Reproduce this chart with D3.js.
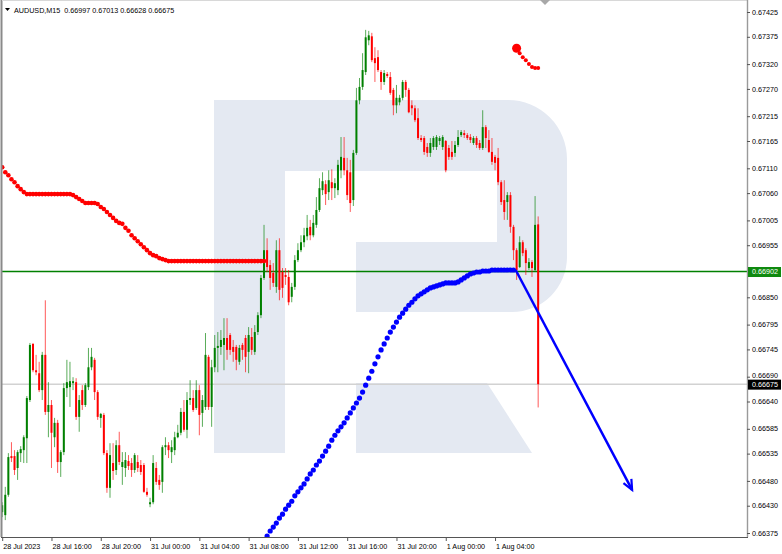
<!DOCTYPE html>
<html><head><meta charset="utf-8">
<script src="https://cdn.jsdelivr.net/npm/d3@7"></script>
<style>
html,body{margin:0;padding:0;background:#fff;}
svg{display:block;font-family:"Liberation Sans",Arial,sans-serif;}
</style>
</head><body>
<svg id="chart" width="782" height="554"></svg>
<script>
// ---------------- DATA ----------------
const symbolTitle = "AUDUSD,M15";
const headerValues = ["0.66997", "0.67013", "0.66628", "0.66675"];

// M15 candles, index 0 = 28 Jul 2023 12:00
const opens = [0.66417,0.66411,0.66452,0.66530,0.66530,0.66506,0.66536,0.66542,0.66566,0.66643,
0.66756,0.66703,0.66697,0.66663,0.66734,0.66619,0.66633,0.66568,0.66597,0.66518,
0.66538,0.66667,0.66669,0.66677,0.66679,0.66609,0.66663,0.66633,0.66669,0.66709,
0.66724,0.66659,0.66607,0.66613,0.66536,0.66466,0.66516,0.66502,0.66552,0.66508,
0.66506,0.66520,0.66516,0.66502,0.66518,0.66512,0.66512,0.66458,0.66433,0.66437,
0.66506,0.66482,0.66478,0.66548,0.66552,0.66538,0.66542,0.66568,0.66577,0.66619,
0.66583,0.66643,0.66647,0.66627,0.66663,0.66617,0.66629,0.66730,0.66629,0.66709,
0.66748,0.66750,0.66754,0.66768,0.66774,0.66750,0.66750,0.66720,0.66754,0.66768,
0.66740,0.66770,0.66740,0.66780,0.66814,0.66889,0.66945,0.66915,0.66899,0.66871,
0.66945,0.66901,0.66895,0.66891,0.66851,0.66871,0.66925,0.66945,0.66961,0.66973,
0.66992,0.66975,0.66996,0.67026,0.67066,0.67078,0.67062,0.67082,0.67070,0.67066,
0.67106,0.67131,0.67106,0.67102,0.67046,0.67141,0.67247,0.67274,0.67304,0.67368,
0.67376,0.67332,0.67334,0.67304,0.67284,0.67300,0.67294,0.67268,0.67237,0.67243,
0.67252,0.67284,0.67268,0.67237,0.67231,0.67211,0.67171,0.67171,0.67153,0.67141,
0.67153,0.67153,0.67165,0.67153,0.67165,0.67151,0.67143,0.67141,0.67157,0.67177,
0.67181,0.67177,0.67173,0.67161,0.67171,0.67161,0.67151,0.67193,0.67167,0.67143,
0.67133,0.67131,0.67082,0.67046,0.67042,0.67056,0.66992,0.66945,0.66911,0.66961,
0.66945,0.66909,0.66921,0.66905,0.66997];
const highs = [0.66437,0.66468,0.66536,0.66558,0.66542,0.66542,0.66550,0.66572,0.66651,0.66758,
0.66758,0.66734,0.66720,0.66740,0.66844,0.66679,0.66643,0.66607,0.66603,0.66542,
0.66677,0.66724,0.66720,0.66689,0.66687,0.66653,0.66673,0.66677,0.66748,0.66748,
0.66728,0.66663,0.66617,0.66617,0.66542,0.66556,0.66556,0.66562,0.66579,0.66538,
0.66538,0.66532,0.66526,0.66536,0.66532,0.66522,0.66516,0.66466,0.66446,0.66532,
0.66518,0.66492,0.66552,0.66568,0.66558,0.66562,0.66579,0.66593,0.66627,0.66643,
0.66659,0.66683,0.66663,0.66683,0.66673,0.66653,0.66778,0.66734,0.66724,0.66774,
0.66780,0.66784,0.66808,0.66808,0.66778,0.66764,0.66754,0.66754,0.66758,0.66774,
0.66790,0.66788,0.66794,0.66820,0.66895,0.66996,0.66969,0.66925,0.66919,0.66965,
0.66969,0.66909,0.66909,0.66905,0.66879,0.66935,0.66959,0.66975,0.66990,0.67016,
0.67006,0.67016,0.67052,0.67090,0.67102,0.67086,0.67106,0.67108,0.67090,0.67127,
0.67173,0.67173,0.67131,0.67127,0.67147,0.67272,0.67292,0.67342,0.67389,0.67387,
0.67383,0.67354,0.67348,0.67308,0.67308,0.67304,0.67304,0.67272,0.67278,0.67258,
0.67288,0.67288,0.67272,0.67247,0.67237,0.67231,0.67177,0.67175,0.67161,0.67171,
0.67175,0.67177,0.67175,0.67177,0.67167,0.67157,0.67165,0.67165,0.67187,0.67187,
0.67187,0.67181,0.67179,0.67175,0.67175,0.67167,0.67227,0.67197,0.67187,0.67171,
0.67137,0.67151,0.67086,0.67086,0.67062,0.67062,0.66996,0.66949,0.66973,0.66965,
0.66949,0.66929,0.66925,0.67054,0.67013];
const lows = [0.66407,0.66401,0.66448,0.66518,0.66492,0.66482,0.66518,0.66516,0.66516,0.66639,
0.66699,0.66693,0.66659,0.66643,0.66613,0.66568,0.66506,0.66548,0.66496,0.66488,
0.66532,0.66649,0.66629,0.66663,0.66603,0.66579,0.66623,0.66629,0.66663,0.66703,
0.66643,0.66603,0.66587,0.66532,0.66456,0.66446,0.66482,0.66492,0.66512,0.66472,
0.66488,0.66502,0.66488,0.66496,0.66498,0.66492,0.66456,0.66448,0.66427,0.66433,
0.66472,0.66462,0.66456,0.66532,0.66526,0.66516,0.66532,0.66566,0.66572,0.66579,
0.66566,0.66633,0.66619,0.66623,0.66572,0.66589,0.66623,0.66623,0.66589,0.66699,
0.66699,0.66734,0.66703,0.66724,0.66734,0.66720,0.66703,0.66714,0.66724,0.66699,
0.66697,0.66734,0.66734,0.66774,0.66808,0.66885,0.66901,0.66865,0.66871,0.66859,
0.66844,0.66849,0.66875,0.66834,0.66840,0.66865,0.66921,0.66941,0.66951,0.66965,
0.66965,0.66971,0.66990,0.67022,0.67056,0.67036,0.67046,0.67046,0.67050,0.67056,
0.67090,0.67096,0.67046,0.67022,0.67034,0.67137,0.67239,0.67268,0.67298,0.67358,
0.67324,0.67284,0.67304,0.67268,0.67278,0.67292,0.67258,0.67217,0.67221,0.67237,
0.67247,0.67254,0.67221,0.67217,0.67203,0.67167,0.67163,0.67137,0.67133,0.67133,
0.67147,0.67147,0.67157,0.67147,0.67102,0.67127,0.67127,0.67133,0.67153,0.67173,
0.67171,0.67167,0.67161,0.67157,0.67151,0.67147,0.67147,0.67151,0.67141,0.67117,
0.67106,0.67076,0.67036,0.67006,0.67006,0.66980,0.66925,0.66885,0.66909,0.66933,
0.66895,0.66905,0.66891,0.66901,0.66628];
const closes = [0.66431,0.66452,0.66528,0.66526,0.66502,0.66538,0.66544,0.66568,0.66647,0.66754,
0.66703,0.66699,0.66663,0.66734,0.66619,0.66633,0.66577,0.66597,0.66518,0.66538,
0.66667,0.66679,0.66681,0.66681,0.66609,0.66643,0.66633,0.66673,0.66709,0.66730,
0.66659,0.66609,0.66615,0.66536,0.66466,0.66532,0.66500,0.66552,0.66518,0.66518,
0.66522,0.66510,0.66502,0.66532,0.66506,0.66498,0.66458,0.66452,0.66437,0.66516,
0.66478,0.66472,0.66548,0.66552,0.66542,0.66548,0.66568,0.66577,0.66619,0.66583,
0.66643,0.66647,0.66623,0.66663,0.66613,0.66643,0.66734,0.66629,0.66709,0.66748,
0.66752,0.66764,0.66768,0.66744,0.66744,0.66740,0.66724,0.66748,0.66744,0.66730,
0.66774,0.66744,0.66780,0.66814,0.66889,0.66945,0.66911,0.66889,0.66879,0.66945,
0.66865,0.66869,0.66891,0.66840,0.66871,0.66925,0.66945,0.66961,0.66975,0.66990,
0.66975,0.67000,0.67026,0.67070,0.67084,0.67058,0.67086,0.67070,0.67080,0.67117,
0.67133,0.67106,0.67056,0.67040,0.67141,0.67247,0.67274,0.67308,0.67374,0.67378,
0.67328,0.67322,0.67308,0.67284,0.67302,0.67296,0.67262,0.67237,0.67252,0.67252,
0.67284,0.67268,0.67223,0.67231,0.67207,0.67171,0.67167,0.67143,0.67141,0.67161,
0.67171,0.67173,0.67171,0.67173,0.67106,0.67133,0.67133,0.67157,0.67173,0.67183,
0.67177,0.67171,0.67167,0.67171,0.67157,0.67151,0.67193,0.67171,0.67143,0.67123,
0.67121,0.67082,0.67042,0.67022,0.67056,0.66992,0.66945,0.66905,0.66961,0.66939,
0.66919,0.66921,0.66909,0.66996,0.66675];

// Dotted indicator (red above price), candles 0..85
const redDotsStart = 0;
const redDots = [0.67112,0.67102,0.67096,0.67088,0.67082,0.67074,0.67068,0.67062,0.67058,0.67058,
0.67058,0.67058,0.67058,0.67058,0.67058,0.67058,0.67058,0.67058,0.67058,0.67058,
0.67058,0.67058,0.67058,0.67056,0.67052,0.67048,0.67044,0.67040,0.67040,0.67040,
0.67040,0.67038,0.67032,0.67028,0.67022,0.67016,0.67010,0.67004,0.67000,0.66998,
0.66990,0.66984,0.66975,0.66969,0.66963,0.66957,0.66951,0.66945,0.66939,0.66935,
0.66933,0.66929,0.66927,0.66925,0.66923,0.66923,0.66923,0.66923,0.66923,0.66923,
0.66923,0.66923,0.66923,0.66923,0.66923,0.66923,0.66923,0.66923,0.66923,0.66923,
0.66923,0.66923,0.66923,0.66923,0.66923,0.66923,0.66923,0.66923,0.66923,0.66923,
0.66923,0.66923,0.66923,0.66923,0.66923,0.66923];
// Dotted indicator (blue below price), candles 86..166
const blueDotsStart = 86;
const blueDots = [0.66369,0.66379,0.66387,0.66395,0.66405,0.66413,0.66423,0.66431,0.66439,0.66450,
0.66458,0.66466,0.66474,0.66484,0.66494,0.66502,0.66512,0.66520,0.66530,0.66540,
0.66550,0.66562,0.66572,0.66581,0.66589,0.66597,0.66607,0.66617,0.66627,0.66637,
0.66647,0.66659,0.66673,0.66687,0.66701,0.66716,0.66730,0.66744,0.66756,0.66768,
0.66780,0.66790,0.66800,0.66810,0.66818,0.66826,0.66834,0.66840,0.66847,0.66853,
0.66857,0.66861,0.66865,0.66869,0.66871,0.66873,0.66875,0.66877,0.66879,0.66879,
0.66879,0.66879,0.66881,0.66885,0.66889,0.66893,0.66897,0.66899,0.66901,0.66901,
0.66903,0.66903,0.66903,0.66905,0.66905,0.66905,0.66905,0.66905,0.66905,0.66905,
0.66905];
// Dotted indicator (red again), candles 167..174
const redDots2Start = 167;
const redDots2 = [0.67352,0.67342,0.67334,0.67328,0.67320,0.67314,0.67312,0.67312];

const levelPrice = 0.66902;
const lastPrice = 0.66675;
// forecast arrow: [candle index, price]
const arrowFrom = [166.7, 0.66905];
const arrowTo = [204.5, 0.66462];

const timeTickIndex = [0, 16, 32, 48, 64, 80, 96, 112, 128, 144, 160];
const timeTickLabels = ["28 Jul 2023", "28 Jul 16:00", "28 Jul 20:00", "31 Jul 00:00", "31 Jul 04:00",
  "31 Jul 08:00", "31 Jul 12:00", "31 Jul 16:00", "31 Jul 20:00", "1 Aug 00:00", "1 Aug 04:00"];
const priceTicks = [0.67425, 0.67375, 0.67320, 0.67270, 0.67215, 0.67165, 0.67110, 0.67060, 0.67005,
  0.66955, 0.66850, 0.66795, 0.66745, 0.66690, 0.66640, 0.66585, 0.66535, 0.66480, 0.66430, 0.66375];

// ---------------- DRAW ----------------
const svg = d3.select("#chart");
const plot = {l: 2, r: 747, t: 0, b: 537};
const x = d3.scaleLinear().domain([0, 241.8]).range([2.2, 747]);
const y = d3.scaleLinear().domain([0.66375, 0.67425]).range([533, 12]);
const FONT = "'Liberation Sans', Arial, sans-serif";
const GREEN = "#008000", RED = "#ff0000", BLUE = "#0000ff";

svg.append("rect").attr("width", 782).attr("height", 554).attr("fill", "#fff");
svg.append("defs").append("clipPath").attr("id", "clip")
  .append("rect").attr("x", plot.l).attr("y", plot.t)
  .attr("width", plot.r - plot.l).attr("height", plot.b - plot.t);

// watermark logo
const logo = svg.append("g").attr("fill", "#e4e9f2");
logo.append("rect").attr("x", 214).attr("y", 100).attr("width", 71).attr("height", 353);
logo.append("path").attr("d", "M285,100 L508,100 A59,59 0 0 1 567,159 L567,257 A55,55 0 0 1 512,312 L356,312 L356,242 L497,242 L497,171 L285,171 Z");
logo.append("path").attr("d", "M356,383 L487,383 L532,453 L356,453 Z");

const g = svg.append("g").attr("clip-path", "url(#clip)");

// horizontal lines
g.append("line").attr("x1", plot.l).attr("x2", plot.r)
  .attr("y1", y(lastPrice)).attr("y2", y(lastPrice))
  .attr("stroke", "#d2d2d2").attr("stroke-width", 1.5);
g.append("line").attr("x1", plot.l).attr("x2", plot.r)
  .attr("y1", y(levelPrice)).attr("y2", y(levelPrice))
  .attr("stroke", GREEN).attr("stroke-width", 1.6);

// candles
const candles = opens.map((o, i) => ({i, o, h: highs[i], l: lows[i], c: closes[i]}));
const col = d => d.c >= d.o ? GREEN : RED;
g.selectAll("line.wick").data(candles).join("line").attr("class", "wick")
  .attr("x1", d => x(d.i)).attr("x2", d => x(d.i))
  .attr("y1", d => y(d.h)).attr("y2", d => y(d.l))
  .attr("stroke", col).attr("stroke-width", 1).attr("stroke-opacity", 0.65);
g.selectAll("rect.body").data(candles).join("rect").attr("class", "body")
  .attr("x", d => x(d.i) - 1).attr("width", 2)
  .attr("y", d => Math.min(y(d.o), y(d.c)))
  .attr("height", d => Math.max(1, Math.abs(y(d.o) - y(d.c))))
  .attr("fill", col);

// dotted indicators
function dots(arr, start, color, r) {
  g.append("g").selectAll("circle").data(arr).join("circle")
    .attr("cx", (d, k) => x(start + k)).attr("cy", d => y(d))
    .attr("r", r).attr("fill", color);
}
dots(redDots, redDotsStart, RED, 2.3);
dots(blueDots, blueDotsStart, BLUE, 2.6);
dots(redDots2, redDots2Start, RED, 2.0);
g.append("circle").attr("cx", x(redDots2Start)).attr("cy", y(redDots2[0])).attr("r", 4.5).attr("fill", RED);

// forecast arrow
const ax1 = x(arrowFrom[0]), ay1 = y(arrowFrom[1]), ax2 = x(arrowTo[0]), ay2 = y(arrowTo[1]);
g.append("line").attr("x1", ax1).attr("y1", ay1).attr("x2", ax2).attr("y2", ay2)
  .attr("stroke", BLUE).attr("stroke-width", 2.5);
const ang = Math.atan2(ay2 - ay1, ax2 - ax1), hl = 11, ha = 0.42;
g.append("path")
  .attr("d", `M${ax2 - hl * Math.cos(ang - ha)},${ay2 - hl * Math.sin(ang - ha)} L${ax2},${ay2} L${ax2 - hl * Math.cos(ang + ha)},${ay2 - hl * Math.sin(ang + ha)}`)
  .attr("fill", "none").attr("stroke", BLUE).attr("stroke-width", 2.2);

// frame
svg.append("line").attr("x1", 1.5).attr("x2", 1.5).attr("y1", 0).attr("y2", plot.b).attr("stroke", "#8a8a8a").attr("stroke-width", 2);
svg.append("line").attr("x1", plot.l).attr("x2", plot.r).attr("y1", 0.5).attr("y2", 0.5).attr("stroke", "#d8d8d8").attr("stroke-width", 1);
svg.append("line").attr("x1", plot.r + 0.5).attr("x2", plot.r + 0.5).attr("y1", 0).attr("y2", plot.b).attr("stroke", "#9a9a9a").attr("stroke-width", 1.4);
svg.append("line").attr("x1", 1).attr("x2", plot.r + 1).attr("y1", plot.b + 0.5).attr("y2", plot.b + 0.5).attr("stroke", "#555").attr("stroke-width", 1);

// shift marker
svg.append("path").attr("d", "M540,0 L550,0 L545,5 Z").attr("fill", "#a8a8a8");

// axes
const yAxis = d3.axisRight(y).tickValues(priceTicks).tickFormat(d3.format(".5f")).tickSize(3).tickPadding(2);
const ya = svg.append("g").attr("transform", `translate(${plot.r},0)`).call(yAxis);
ya.select(".domain").remove();
ya.selectAll("line").attr("stroke", "#555");
ya.selectAll("text").attr("font-size", 7.2).attr("font-family", FONT).attr("fill", "#000").attr("dy", "0.3em");
// keep the tick label just above the last-price box clear of it
ya.selectAll(".tick").filter(d => d > lastPrice && y(d) > y(lastPrice) - 10)
  .select("text").attr("y", -1.8);

const xAxis = d3.axisBottom(x).tickValues(timeTickIndex).tickFormat((d, k) => timeTickLabels[k]).tickSize(4).tickPadding(3);
const xa = svg.append("g").attr("transform", `translate(0,${plot.b})`).call(xAxis);
xa.select(".domain").remove();
xa.selectAll("line").attr("stroke", "#555");
xa.selectAll("text").attr("font-size", 7.2).attr("font-family", FONT).attr("fill", "#000")
  .attr("text-anchor", "start").attr("x", 0.5);

// price labels
function priceLabel(p, bg) {
  const yy = y(p);
  svg.append("rect").attr("x", plot.r + 1).attr("y", yy - 4.5).attr("width", 33).attr("height", 10).attr("fill", bg);
  svg.append("text").attr("x", 752).attr("y", yy + 0.5).attr("dy", "0.32em")
    .attr("font-size", 7.2).attr("font-family", FONT).attr("fill", "#fff").text(d3.format(".5f")(p));
}
priceLabel(levelPrice, "#0f8a0f");
priceLabel(lastPrice, "#000");

// header
svg.append("path").attr("d", "M5,8 L10,8 L7.5,11 Z").attr("fill", "#000");
svg.append("text").attr("x", 14).attr("y", 12.5).attr("font-size", 7.2).attr("font-family", FONT)
  .attr("fill", "#000").style("white-space", "pre")
  .text(symbolTitle + "  " + headerValues.join(" "));
</script>
</body></html>
